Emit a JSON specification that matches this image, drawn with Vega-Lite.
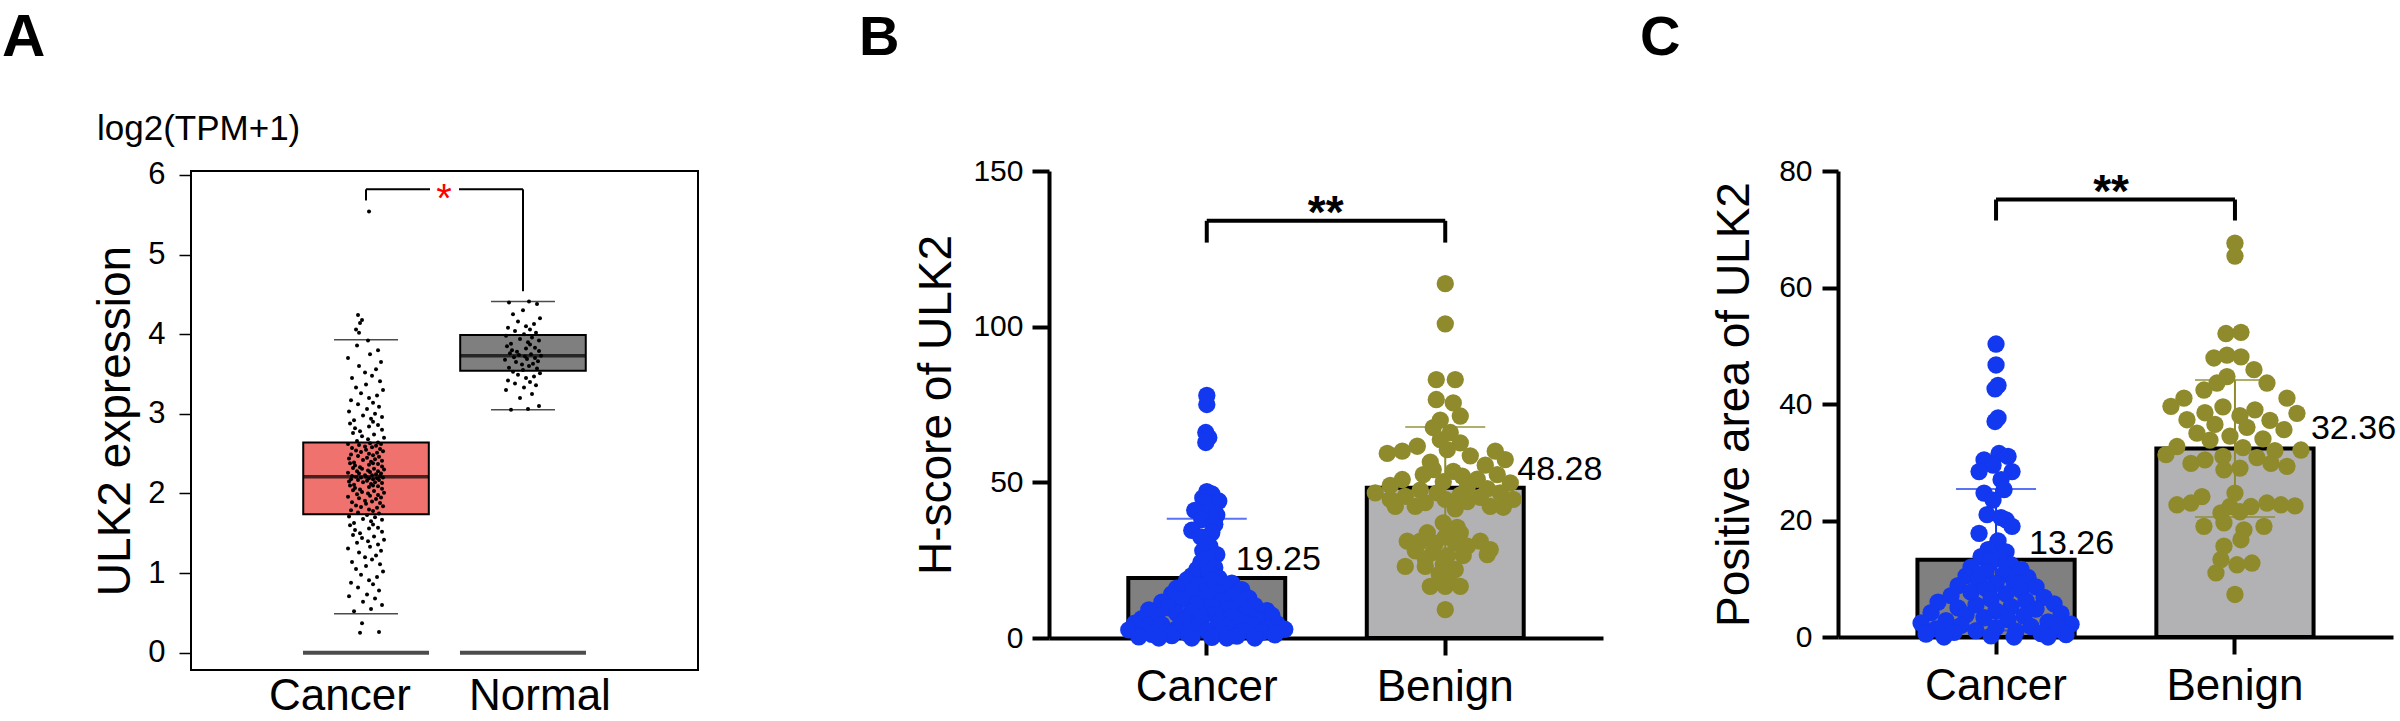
{
"$schema": "https://vega.github.io/schema/vega-lite/v6.json",
"autosize": {"type": "none"},
"padding": {"left": 191, "top": 171, "right": 2209, "bottom": 550},
"background": "white",
"config": {
  "view": {"stroke": null},
  "font": "Liberation Sans",
  "axis": {"labelFont": "Liberation Sans", "titleFont": "Liberation Sans", "labelColor": "black", "titleColor": "black", "grid": false},
  "title": {"font": "Liberation Sans", "color": "black"},
  "text": {"font": "Liberation Sans", "color": "black"}
},
"title": {"text": "A", "anchor": "start", "frame": "group", "dx": -189, "offset": 0, "dy": 59, "fontSize": 60, "fontWeight": "bold"},
"resolve": {"scale": {"x": "independent", "y": "independent", "color": "independent", "fill": "independent", "xOffset": "independent"}},
"bounds": "flush",
"spacing": 50,
"datasets": {
  "abox": [
    {"g": "Cancer", "lo": 0.49, "q1": 1.74, "med": 2.21, "q3": 2.64, "hi": 3.93, "z": 0},
    {"g": "Normal", "lo": 3.05, "q1": 3.54, "med": 3.73, "q3": 3.99, "hi": 4.41, "z": 0}
  ],
  "ap": [
    {"g":"Cancer","v":0.25,"j":-6},{"g":"Cancer","v":0.26,"j":13},{"g":"Cancer","v":0.37,"j":-4},
    {"g":"Cancer","v":0.52,"j":-12},{"g":"Cancer","v":0.55,"j":5},{"g":"Cancer","v":0.6,"j":16},{"g":"Cancer","v":0.64,"j":-3},{"g":"Cancer","v":0.68,"j":9},{"g":"Cancer","v":0.71,"j":-17},{"g":"Cancer","v":0.73,"j":1},{"g":"Cancer","v":0.78,"j":13},{"g":"Cancer","v":0.82,"j":-8},{"g":"Cancer","v":0.86,"j":7},{"g":"Cancer","v":0.88,"j":-15},{"g":"Cancer","v":0.91,"j":3},{"g":"Cancer","v":0.95,"j":11},{"g":"Cancer","v":0.98,"j":-5},
    {"g":"Cancer","v":1.02,"j":17},{"g":"Cancer","v":1.05,"j":-10},{"g":"Cancer","v":1.09,"j":0},{"g":"Cancer","v":1.11,"j":14},{"g":"Cancer","v":1.14,"j":-14},{"g":"Cancer","v":1.17,"j":6},{"g":"Cancer","v":1.2,"j":-1},{"g":"Cancer","v":1.22,"j":10},{"g":"Cancer","v":1.26,"j":-7},{"g":"Cancer","v":1.28,"j":15},{"g":"Cancer","v":1.31,"j":-18},{"g":"Cancer","v":1.33,"j":4},{"g":"Cancer","v":1.36,"j":12},{"g":"Cancer","v":1.38,"j":-9},{"g":"Cancer","v":1.4,"j":2},{"g":"Cancer","v":1.42,"j":18},{"g":"Cancer","v":1.44,"j":-4},{"g":"Cancer","v":1.46,"j":8},{"g":"Cancer","v":1.48,"j":-13},{"g":"Cancer","v":1.5,"j":-6},{"g":"Cancer","v":1.52,"j":16},{"g":"Cancer","v":1.54,"j":-11},{"g":"Cancer","v":1.56,"j":3},{"g":"Cancer","v":1.57,"j":12},{"g":"Cancer","v":1.6,"j":-16},{"g":"Cancer","v":1.61,"j":7},{"g":"Cancer","v":1.63,"j":-12},{"g":"Cancer","v":1.65,"j":5},{"g":"Cancer","v":1.67,"j":16},{"g":"Cancer","v":1.68,"j":-3},{"g":"Cancer","v":1.7,"j":9},{"g":"Cancer","v":1.71,"j":-17},{"g":"Cancer","v":1.73,"j":1},
    {"g":"Cancer","v":1.75,"j":13},{"g":"Cancer","v":1.76,"j":-8},{"g":"Cancer","v":1.78,"j":7},{"g":"Cancer","v":1.79,"j":-15},{"g":"Cancer","v":1.8,"j":3},{"g":"Cancer","v":1.82,"j":11},{"g":"Cancer","v":1.83,"j":-5},{"g":"Cancer","v":1.84,"j":17},{"g":"Cancer","v":1.85,"j":-10},{"g":"Cancer","v":1.87,"j":0},{"g":"Cancer","v":1.88,"j":14},{"g":"Cancer","v":1.89,"j":-14},{"g":"Cancer","v":1.9,"j":6},{"g":"Cancer","v":1.91,"j":-1},{"g":"Cancer","v":1.93,"j":10},{"g":"Cancer","v":1.94,"j":-7},{"g":"Cancer","v":1.95,"j":15},{"g":"Cancer","v":1.96,"j":-18},{"g":"Cancer","v":1.97,"j":4},{"g":"Cancer","v":1.98,"j":12},{"g":"Cancer","v":1.99,"j":-9},{"g":"Cancer","v":2.0,"j":2},{"g":"Cancer","v":2.01,"j":18},{"g":"Cancer","v":2.02,"j":-4},{"g":"Cancer","v":2.03,"j":8},{"g":"Cancer","v":2.04,"j":-13},{"g":"Cancer","v":2.05,"j":-6},{"g":"Cancer","v":2.06,"j":16},{"g":"Cancer","v":2.07,"j":-11},{"g":"Cancer","v":2.08,"j":3},{"g":"Cancer","v":2.09,"j":12},{"g":"Cancer","v":2.1,"j":-16},{"g":"Cancer","v":2.1,"j":7},{"g":"Cancer","v":2.11,"j":-12},{"g":"Cancer","v":2.12,"j":5},{"g":"Cancer","v":2.13,"j":16},{"g":"Cancer","v":2.14,"j":-3},{"g":"Cancer","v":2.14,"j":9},{"g":"Cancer","v":2.15,"j":-17},{"g":"Cancer","v":2.16,"j":1},{"g":"Cancer","v":2.17,"j":13},{"g":"Cancer","v":2.17,"j":-8},{"g":"Cancer","v":2.18,"j":7},{"g":"Cancer","v":2.18,"j":-15},{"g":"Cancer","v":2.19,"j":3},{"g":"Cancer","v":2.19,"j":11},{"g":"Cancer","v":2.2,"j":-5},{"g":"Cancer","v":2.2,"j":17},{"g":"Cancer","v":2.21,"j":-10},{"g":"Cancer","v":2.21,"j":0},
    {"g":"Cancer","v":2.22,"j":14},{"g":"Cancer","v":2.22,"j":-14},{"g":"Cancer","v":2.23,"j":6},{"g":"Cancer","v":2.23,"j":-1},{"g":"Cancer","v":2.24,"j":10},{"g":"Cancer","v":2.25,"j":-7},{"g":"Cancer","v":2.25,"j":15},{"g":"Cancer","v":2.26,"j":-18},{"g":"Cancer","v":2.27,"j":4},{"g":"Cancer","v":2.28,"j":12},{"g":"Cancer","v":2.28,"j":-9},{"g":"Cancer","v":2.29,"j":2},{"g":"Cancer","v":2.3,"j":18},{"g":"Cancer","v":2.31,"j":-4},{"g":"Cancer","v":2.31,"j":8},{"g":"Cancer","v":2.32,"j":-13},{"g":"Cancer","v":2.33,"j":-6},{"g":"Cancer","v":2.34,"j":16},{"g":"Cancer","v":2.35,"j":-11},{"g":"Cancer","v":2.36,"j":3},{"g":"Cancer","v":2.37,"j":12},{"g":"Cancer","v":2.38,"j":-16},{"g":"Cancer","v":2.38,"j":7},{"g":"Cancer","v":2.39,"j":-12},{"g":"Cancer","v":2.4,"j":5},{"g":"Cancer","v":2.41,"j":16},{"g":"Cancer","v":2.42,"j":-3},{"g":"Cancer","v":2.43,"j":9},{"g":"Cancer","v":2.44,"j":-17},{"g":"Cancer","v":2.45,"j":1},{"g":"Cancer","v":2.46,"j":13},{"g":"Cancer","v":2.47,"j":-8},{"g":"Cancer","v":2.48,"j":7},{"g":"Cancer","v":2.49,"j":-15},{"g":"Cancer","v":2.5,"j":3},{"g":"Cancer","v":2.51,"j":11},{"g":"Cancer","v":2.52,"j":-5},{"g":"Cancer","v":2.53,"j":17},{"g":"Cancer","v":2.54,"j":-10},{"g":"Cancer","v":2.55,"j":0},{"g":"Cancer","v":2.56,"j":14},{"g":"Cancer","v":2.57,"j":-14},{"g":"Cancer","v":2.58,"j":6},{"g":"Cancer","v":2.59,"j":-1},{"g":"Cancer","v":2.6,"j":10},{"g":"Cancer","v":2.61,"j":-7},{"g":"Cancer","v":2.62,"j":15},{"g":"Cancer","v":2.62,"j":-18},{"g":"Cancer","v":2.63,"j":4},{"g":"Cancer","v":2.64,"j":12},
    {"g":"Cancer","v":2.66,"j":-9},{"g":"Cancer","v":2.68,"j":2},{"g":"Cancer","v":2.7,"j":18},{"g":"Cancer","v":2.72,"j":-4},{"g":"Cancer","v":2.74,"j":8},{"g":"Cancer","v":2.76,"j":-13},{"g":"Cancer","v":2.78,"j":-6},{"g":"Cancer","v":2.8,"j":16},{"g":"Cancer","v":2.82,"j":-11},{"g":"Cancer","v":2.84,"j":3},{"g":"Cancer","v":2.86,"j":12},{"g":"Cancer","v":2.88,"j":-16},{"g":"Cancer","v":2.9,"j":7},{"g":"Cancer","v":2.92,"j":-12},{"g":"Cancer","v":2.94,"j":5},{"g":"Cancer","v":2.96,"j":16},{"g":"Cancer","v":2.98,"j":-3},{"g":"Cancer","v":3.0,"j":9},{"g":"Cancer","v":3.03,"j":-17},{"g":"Cancer","v":3.06,"j":1},{"g":"Cancer","v":3.09,"j":13},{"g":"Cancer","v":3.12,"j":-8},{"g":"Cancer","v":3.14,"j":7},{"g":"Cancer","v":3.17,"j":-15},{"g":"Cancer","v":3.2,"j":3},{"g":"Cancer","v":3.23,"j":11},{"g":"Cancer","v":3.26,"j":-5},{"g":"Cancer","v":3.3,"j":17},{"g":"Cancer","v":3.33,"j":-10},{"g":"Cancer","v":3.37,"j":0},{"g":"Cancer","v":3.41,"j":14},{"g":"Cancer","v":3.45,"j":-14},{"g":"Cancer","v":3.48,"j":6},{"g":"Cancer","v":3.52,"j":-1},{"g":"Cancer","v":3.56,"j":10},{"g":"Cancer","v":3.6,"j":-7},{"g":"Cancer","v":3.65,"j":15},{"g":"Cancer","v":3.7,"j":-18},{"g":"Cancer","v":3.75,"j":4},{"g":"Cancer","v":3.8,"j":12},{"g":"Cancer","v":3.86,"j":-9},{"g":"Cancer","v":3.92,"j":2},
    {"g":"Cancer","v":4.02,"j":-7},{"g":"Cancer","v":4.06,"j":-10},{"g":"Cancer","v":4.14,"j":-6},{"g":"Cancer","v":4.18,"j":-4},{"g":"Cancer","v":4.24,"j":-8},{"g":"Cancer","v":5.54,"j":3},
    {"g":"Normal","v":3.05,"j":-12},{"g":"Normal","v":3.06,"j":5},{"g":"Normal","v":3.1,"j":16},{"g":"Normal","v":3.2,"j":-3},{"g":"Normal","v":3.25,"j":9},{"g":"Normal","v":3.3,"j":-17},{"g":"Normal","v":3.33,"j":1},{"g":"Normal","v":3.36,"j":13},{"g":"Normal","v":3.38,"j":-8},{"g":"Normal","v":3.4,"j":7},{"g":"Normal","v":3.42,"j":-15},{"g":"Normal","v":3.45,"j":3},{"g":"Normal","v":3.47,"j":11},{"g":"Normal","v":3.49,"j":-5},{"g":"Normal","v":3.51,"j":17},{"g":"Normal","v":3.53,"j":-10},{"g":"Normal","v":3.55,"j":0},{"g":"Normal","v":3.57,"j":14},{"g":"Normal","v":3.58,"j":-14},{"g":"Normal","v":3.6,"j":6},{"g":"Normal","v":3.62,"j":-1},{"g":"Normal","v":3.63,"j":10},{"g":"Normal","v":3.65,"j":-7},{"g":"Normal","v":3.66,"j":15},{"g":"Normal","v":3.68,"j":-18},{"g":"Normal","v":3.69,"j":4},{"g":"Normal","v":3.7,"j":12},{"g":"Normal","v":3.71,"j":-9},{"g":"Normal","v":3.72,"j":2},{"g":"Normal","v":3.73,"j":18},{"g":"Normal","v":3.74,"j":-4},{"g":"Normal","v":3.75,"j":8},{"g":"Normal","v":3.76,"j":-13},{"g":"Normal","v":3.78,"j":-6},{"g":"Normal","v":3.79,"j":16},{"g":"Normal","v":3.8,"j":-11},{"g":"Normal","v":3.82,"j":3},{"g":"Normal","v":3.83,"j":12},{"g":"Normal","v":3.85,"j":-16},{"g":"Normal","v":3.87,"j":7},{"g":"Normal","v":3.88,"j":-12},{"g":"Normal","v":3.9,"j":5},{"g":"Normal","v":3.92,"j":16},{"g":"Normal","v":3.94,"j":-3},{"g":"Normal","v":3.96,"j":9},{"g":"Normal","v":3.98,"j":-17},{"g":"Normal","v":4.0,"j":1},{"g":"Normal","v":4.02,"j":13},{"g":"Normal","v":4.04,"j":-8},{"g":"Normal","v":4.06,"j":7},{"g":"Normal","v":4.08,"j":-15},{"g":"Normal","v":4.1,"j":3},{"g":"Normal","v":4.13,"j":11},{"g":"Normal","v":4.16,"j":-5},{"g":"Normal","v":4.2,"j":17},{"g":"Normal","v":4.25,"j":-10},{"g":"Normal","v":4.3,"j":0},{"g":"Normal","v":4.38,"j":14},{"g":"Normal","v":4.4,"j":-14},{"g":"Normal","v":4.41,"j":6}
  ],
  "abr": [{"g": "Cancer", "g2": "Normal", "v": 5.82}],
  "aleg": [{"g": "Cancer", "v": 5.82, "v2": 5.68}, {"g": "Normal", "v": 5.82, "v2": 4.54}],
  "bbar": [
    {"g": "Cancer", "m": 19.25, "lo": 0.2, "hi": 38.3, "lab": "19.25"},
    {"g": "Benign", "m": 48.28, "lo": 28.8, "hi": 67.8, "lab": "48.28"}
  ],
  "bp": [
    {"g":"Cancer","v":77.9,"j":0},{"g":"Cancer","v":75.0,"j":0},{"g":"Cancer","v":66.0,"j":-1},{"g":"Cancer","v":64.4,"j":2},{"g":"Cancer","v":62.8,"j":-1},
    {"g":"Cancer","v":47.0,"j":0},{"g":"Cancer","v":46.3,"j":5},{"g":"Cancer","v":45.0,"j":-4},{"g":"Cancer","v":44.0,"j":12},{"g":"Cancer","v":43.5,"j":-2},{"g":"Cancer","v":41.0,"j":-12},{"g":"Cancer","v":40.4,"j":2},{"g":"Cancer","v":39.5,"j":10},{"g":"Cancer","v":38.0,"j":-5},{"g":"Cancer","v":36.5,"j":8},{"g":"Cancer","v":34.6,"j":-15},{"g":"Cancer","v":33.8,"j":5},{"g":"Cancer","v":32.5,"j":-6},{"g":"Cancer","v":29.5,"j":3},{"g":"Cancer","v":28.0,"j":-4},{"g":"Cancer","v":26.8,"j":10},{"g":"Cancer","v":25.7,"j":0},{"g":"Cancer","v":24.2,"j":-6},{"g":"Cancer","v":22.6,"j":8},{"g":"Cancer","v":22.0,"j":-10},{"g":"Cancer","v":21.0,"j":2},{"g":"Cancer","v":20.0,"j":-15},{"g":"Cancer","v":19.3,"j":12},
    {"g":"Cancer","v":18.7,"j":-20},{"g":"Cancer","v":18.2,"j":5},{"g":"Cancer","v":17.6,"j":25},{"g":"Cancer","v":17.0,"j":-8},{"g":"Cancer","v":16.4,"j":18},{"g":"Cancer","v":16.0,"j":-30},{"g":"Cancer","v":15.5,"j":35},{"g":"Cancer","v":15.0,"j":-15},{"g":"Cancer","v":14.6,"j":10},{"g":"Cancer","v":14.2,"j":-35},{"g":"Cancer","v":13.8,"j":28},{"g":"Cancer","v":13.3,"j":-2},{"g":"Cancer","v":12.8,"j":42},{"g":"Cancer","v":12.4,"j":-25},{"g":"Cancer","v":12.0,"j":15},{"g":"Cancer","v":11.5,"j":-45},{"g":"Cancer","v":11.2,"j":32},{"g":"Cancer","v":10.8,"j":-10},{"g":"Cancer","v":10.4,"j":48},{"g":"Cancer","v":10.0,"j":5},
    {"g":"Cancer","v":9.7,"j":-38},{"g":"Cancer","v":9.4,"j":22},{"g":"Cancer","v":9.0,"j":-58},{"g":"Cancer","v":8.8,"j":60},{"g":"Cancer","v":8.5,"j":-15},{"g":"Cancer","v":8.2,"j":40},{"g":"Cancer","v":7.9,"j":-30},{"g":"Cancer","v":7.6,"j":8},{"g":"Cancer","v":7.3,"j":65},{"g":"Cancer","v":7.0,"j":-50},{"g":"Cancer","v":6.8,"j":25},{"g":"Cancer","v":6.5,"j":-5},{"g":"Cancer","v":6.2,"j":-65},{"g":"Cancer","v":5.9,"j":50},{"g":"Cancer","v":5.6,"j":-22},{"g":"Cancer","v":5.3,"j":35},{"g":"Cancer","v":5.0,"j":12},
    {"g":"Cancer","v":4.8,"j":-72},{"g":"Cancer","v":4.6,"j":70},{"g":"Cancer","v":4.3,"j":-45},{"g":"Cancer","v":4.1,"j":45},{"g":"Cancer","v":3.9,"j":-10},{"g":"Cancer","v":3.6,"j":20},{"g":"Cancer","v":3.4,"j":-60},{"g":"Cancer","v":3.2,"j":60},{"g":"Cancer","v":3.0,"j":-30},{"g":"Cancer","v":2.8,"j":78},{"g":"Cancer","v":2.6,"j":-78},{"g":"Cancer","v":2.4,"j":0},{"g":"Cancer","v":2.2,"j":35},{"g":"Cancer","v":2.0,"j":-40},{"g":"Cancer","v":1.8,"j":55},{"g":"Cancer","v":1.6,"j":-20},{"g":"Cancer","v":1.4,"j":15},{"g":"Cancer","v":1.2,"j":-55},{"g":"Cancer","v":1.0,"j":68},{"g":"Cancer","v":0.8,"j":-35},{"g":"Cancer","v":0.6,"j":30},{"g":"Cancer","v":0.4,"j":-68},{"g":"Cancer","v":0.2,"j":5},{"g":"Cancer","v":0.0,"j":-48},{"g":"Cancer","v":0.0,"j":48},{"g":"Cancer","v":0.0,"j":-15},{"g":"Cancer","v":0.0,"j":20},
    {"g":"Benign","v":113.8,"j":0},{"g":"Benign","v":100.9,"j":0},{"g":"Benign","v":83.0,"j":-9},{"g":"Benign","v":83.0,"j":10},{"g":"Benign","v":76.6,"j":-9},{"g":"Benign","v":75.5,"j":8},{"g":"Benign","v":71.3,"j":15},{"g":"Benign","v":70.0,"j":-5},{"g":"Benign","v":67.6,"j":-12},{"g":"Benign","v":66.0,"j":5},{"g":"Benign","v":63.7,"j":-5},{"g":"Benign","v":62.7,"j":15},{"g":"Benign","v":61.6,"j":-28},{"g":"Benign","v":60.5,"j":2},{"g":"Benign","v":60.0,"j":-43},{"g":"Benign","v":59.3,"j":-58},{"g":"Benign","v":60.0,"j":50},{"g":"Benign","v":58.5,"j":25},{"g":"Benign","v":57.3,"j":60},{"g":"Benign","v":56.5,"j":-15},{"g":"Benign","v":55.5,"j":40},{"g":"Benign","v":54.1,"j":-12},{"g":"Benign","v":53.5,"j":8},{"g":"Benign","v":52.5,"j":-22},{"g":"Benign","v":52.5,"j":52},{"g":"Benign","v":52.0,"j":17},{"g":"Benign","v":51.0,"j":32},{"g":"Benign","v":50.9,"j":-43},{"g":"Benign","v":50.2,"j":-2},{"g":"Benign","v":49.8,"j":65},{"g":"Benign","v":49.0,"j":-55},{"g":"Benign","v":48.5,"j":22},{"g":"Benign","v":48.0,"j":42},{"g":"Benign","v":47.5,"j":-25},{"g":"Benign","v":46.6,"j":-70},{"g":"Benign","v":46.6,"j":-8},{"g":"Benign","v":46.6,"j":55},{"g":"Benign","v":46.0,"j":15},{"g":"Benign","v":45.5,"j":-40},{"g":"Benign","v":45.2,"j":35},{"g":"Benign","v":44.5,"j":-55},{"g":"Benign","v":44.5,"j":0},{"g":"Benign","v":44.5,"j":68},{"g":"Benign","v":43.5,"j":-20},{"g":"Benign","v":43.8,"j":22},{"g":"Benign","v":42.3,"j":-50},{"g":"Benign","v":42.3,"j":-30},{"g":"Benign","v":42.3,"j":45},{"g":"Benign","v":42.0,"j":58},{"g":"Benign","v":41.5,"j":10},{"g":"Benign","v":37.0,"j":-2},{"g":"Benign","v":35.5,"j":12},{"g":"Benign","v":33.8,"j":-18},{"g":"Benign","v":33.8,"j":15},{"g":"Benign","v":32.5,"j":0},{"g":"Benign","v":31.1,"j":-38},{"g":"Benign","v":31.1,"j":-25},{"g":"Benign","v":31.1,"j":35},{"g":"Benign","v":30.5,"j":-10},{"g":"Benign","v":30.5,"j":10},{"g":"Benign","v":29.5,"j":22},{"g":"Benign","v":28.4,"j":45},{"g":"Benign","v":28.0,"j":-30},{"g":"Benign","v":27.5,"j":-12},{"g":"Benign","v":26.8,"j":42},{"g":"Benign","v":26.3,"j":2},{"g":"Benign","v":26.5,"j":18},{"g":"Benign","v":25.5,"j":-20},{"g":"Benign","v":23.0,"j":-40},{"g":"Benign","v":23.0,"j":-20},{"g":"Benign","v":23.5,"j":-2},{"g":"Benign","v":22.0,"j":10},{"g":"Benign","v":20.5,"j":-6},{"g":"Benign","v":18.5,"j":4},{"g":"Benign","v":16.6,"j":-15},{"g":"Benign","v":16.6,"j":0},{"g":"Benign","v":16.6,"j":15},{"g":"Benign","v":9.1,"j":0}
  ],
  "bbr": [{"g": "Cancer", "g2": "Benign", "v": 134}],
  "bleg": [{"g": "Cancer", "v": 134, "v2": 127}, {"g": "Benign", "v": 134, "v2": 127}],
  "cbar": [
    {"g": "Cancer", "m": 13.26, "lo": 1.1, "hi": 25.4, "lab": "13.26"},
    {"g": "Benign", "m": 32.36, "lo": 20.6, "hi": 44.1, "lab": "32.36"}
  ],
  "cp": [
    {"g":"Cancer","v":50.3,"j":0},{"g":"Cancer","v":46.7,"j":0},{"g":"Cancer","v":43.2,"j":2},{"g":"Cancer","v":42.6,"j":-1},{"g":"Cancer","v":37.6,"j":2},{"g":"Cancer","v":37.0,"j":-1},{"g":"Cancer","v":31.5,"j":3},{"g":"Cancer","v":31.0,"j":12},{"g":"Cancer","v":30.4,"j":-12},{"g":"Cancer","v":29.5,"j":-3},{"g":"Cancer","v":28.4,"j":-17},{"g":"Cancer","v":28.4,"j":16},{"g":"Cancer","v":27.0,"j":5},{"g":"Cancer","v":25.3,"j":8},{"g":"Cancer","v":24.7,"j":-12},{"g":"Cancer","v":23.5,"j":-3},{"g":"Cancer","v":21.0,"j":-9},{"g":"Cancer","v":20.5,"j":5},{"g":"Cancer","v":20.1,"j":10},{"g":"Cancer","v":19.0,"j":16},{"g":"Cancer","v":17.8,"j":-17},{"g":"Cancer","v":16.5,"j":2},{"g":"Cancer","v":15.6,"j":0},{"g":"Cancer","v":15.0,"j":-8},{"g":"Cancer","v":14.6,"j":10},
    {"g":"Cancer","v":13.8,"j":-15},{"g":"Cancer","v":13.4,"j":5},{"g":"Cancer","v":12.7,"j":-6},{"g":"Cancer","v":12.4,"j":15},{"g":"Cancer","v":12.0,"j":-25},{"g":"Cancer","v":11.6,"j":25},{"g":"Cancer","v":11.2,"j":-10},{"g":"Cancer","v":10.8,"j":8},{"g":"Cancer","v":10.5,"j":-30},{"g":"Cancer","v":10.2,"j":32},{"g":"Cancer","v":9.8,"j":-18},{"g":"Cancer","v":9.5,"j":18},{"g":"Cancer","v":9.2,"j":0},{"g":"Cancer","v":8.8,"j":-38},{"g":"Cancer","v":8.6,"j":40},{"g":"Cancer","v":8.3,"j":-10},{"g":"Cancer","v":8.0,"j":25},{"g":"Cancer","v":7.7,"j":-25},{"g":"Cancer","v":7.4,"j":10},{"g":"Cancer","v":7.1,"j":-45},{"g":"Cancer","v":6.8,"j":48},{"g":"Cancer","v":6.5,"j":-5},{"g":"Cancer","v":6.2,"j":30},{"g":"Cancer","v":6.0,"j":-58},{"g":"Cancer","v":5.7,"j":58},{"g":"Cancer","v":5.5,"j":-20},{"g":"Cancer","v":5.2,"j":15},{"g":"Cancer","v":5.0,"j":-38},{"g":"Cancer","v":4.8,"j":40},{"g":"Cancer","v":4.5,"j":0},{"g":"Cancer","v":4.2,"j":-65},{"g":"Cancer","v":4.0,"j":65},{"g":"Cancer","v":3.8,"j":-30},{"g":"Cancer","v":3.6,"j":28},{"g":"Cancer","v":3.3,"j":-12},{"g":"Cancer","v":3.0,"j":12},{"g":"Cancer","v":2.8,"j":-50},{"g":"Cancer","v":2.6,"j":52},{"g":"Cancer","v":2.4,"j":-75},{"g":"Cancer","v":2.2,"j":75},{"g":"Cancer","v":2.0,"j":-35},{"g":"Cancer","v":1.8,"j":35},{"g":"Cancer","v":1.6,"j":0},{"g":"Cancer","v":1.4,"j":-60},{"g":"Cancer","v":1.3,"j":62},{"g":"Cancer","v":1.1,"j":-20},{"g":"Cancer","v":1.0,"j":20},{"g":"Cancer","v":0.8,"j":-42},{"g":"Cancer","v":0.6,"j":45},{"g":"Cancer","v":0.5,"j":-70},{"g":"Cancer","v":0.4,"j":70},{"g":"Cancer","v":0.2,"j":-5},{"g":"Cancer","v":0.0,"j":-52},{"g":"Cancer","v":0.0,"j":18},{"g":"Cancer","v":0.0,"j":52},
    {"g":"Benign","v":67.6,"j":0},{"g":"Benign","v":65.4,"j":0},{"g":"Benign","v":52.1,"j":-9},{"g":"Benign","v":52.3,"j":6},{"g":"Benign","v":47.9,"j":-21},{"g":"Benign","v":48.4,"j":-8},{"g":"Benign","v":48.1,"j":6},{"g":"Benign","v":45.9,"j":19},{"g":"Benign","v":44.7,"j":-8},{"g":"Benign","v":43.6,"j":32},{"g":"Benign","v":42.4,"j":-31},{"g":"Benign","v":43.6,"j":-18},{"g":"Benign","v":41.0,"j":-51},{"g":"Benign","v":39.6,"j":-64},{"g":"Benign","v":41.0,"j":52},{"g":"Benign","v":38.4,"j":62},{"g":"Benign","v":37.3,"j":-48},{"g":"Benign","v":38.5,"j":-30},{"g":"Benign","v":39.5,"j":-12},{"g":"Benign","v":38.0,"j":5},{"g":"Benign","v":39.0,"j":20},{"g":"Benign","v":37.2,"j":35},{"g":"Benign","v":36.5,"j":-20},{"g":"Benign","v":36.0,"j":12},{"g":"Benign","v":35.6,"j":49},{"g":"Benign","v":35.0,"j":-38},{"g":"Benign","v":34.5,"j":-5},{"g":"Benign","v":34.0,"j":28},{"g":"Benign","v":33.8,"j":-25},{"g":"Benign","v":32.7,"j":-58},{"g":"Benign","v":32.5,"j":8},{"g":"Benign","v":32.0,"j":40},{"g":"Benign","v":32.1,"j":66},{"g":"Benign","v":31.3,"j":-69},{"g":"Benign","v":31.0,"j":-12},{"g":"Benign","v":30.8,"j":22},{"g":"Benign","v":30.4,"j":-30},{"g":"Benign","v":29.8,"j":-44},{"g":"Benign","v":29.8,"j":36},{"g":"Benign","v":29.3,"j":52},{"g":"Benign","v":28.7,"j":-11},{"g":"Benign","v":29.0,"j":5},{"g":"Benign","v":24.7,"j":0},{"g":"Benign","v":24.1,"j":-33},{"g":"Benign","v":23.0,"j":-44},{"g":"Benign","v":22.7,"j":-58},{"g":"Benign","v":22.4,"j":-5},{"g":"Benign","v":22.4,"j":16},{"g":"Benign","v":23.0,"j":32},{"g":"Benign","v":22.7,"j":46},{"g":"Benign","v":22.5,"j":60},{"g":"Benign","v":21.3,"j":-14},{"g":"Benign","v":21.5,"j":5},{"g":"Benign","v":19.0,"j":-31},{"g":"Benign","v":19.6,"j":-11},{"g":"Benign","v":18.4,"j":9},{"g":"Benign","v":19.0,"j":29},{"g":"Benign","v":15.6,"j":-11},{"g":"Benign","v":16.7,"j":6},{"g":"Benign","v":13.3,"j":-14},{"g":"Benign","v":12.4,"j":2},{"g":"Benign","v":12.7,"j":17},{"g":"Benign","v":11.0,"j":-19},{"g":"Benign","v":7.3,"j":0}
  ],
  "cbr": [{"g": "Cancer", "g2": "Benign", "v": 75.1}],
  "cleg": [{"g": "Cancer", "v": 75.1, "v2": 71.5}, {"g": "Benign", "v": 75.1, "v2": 71.5}]
},
"hconcat": [
  {
    "width": 507, "height": 499,
    "view": {"stroke": "black", "strokeWidth": 2},
    "title": {"text": "log2(TPM+1)", "anchor": "start", "frame": "group", "dx": -94, "offset": 12, "fontSize": 35, "fontWeight": "normal"},
    "resolve": {"scale": {"xOffset": "independent"}},
    "encoding": {
      "x": {"field": "g", "type": "nominal", "sort": ["Cancer", "Normal"],
        "scale": {"domain": ["Cancer", "Normal"], "paddingInner": 0.2, "paddingOuter": 0.715},
        "axis": {"title": null, "domain": false, "ticks": false, "labelAngle": 0, "labelFontSize": 44, "labelPadding": 4,
          "labelOffset": {"condition": {"test": "datum.value === 'Cancer'", "value": -26}, "value": 17}}}
    },
    "layer": [
      {"data": {"name": "abox"}, "mark": {"type": "bar", "stroke": "black", "strokeWidth": 2},
       "encoding": {"y": {"field": "q1", "type": "quantitative", "scale": {"domain": [-0.217, 6.05], "nice": false, "zero": false},
           "axis": {"title": "ULK2 expression", "titleFontSize": 46, "titleFontWeight": "normal", "titlePadding": 8, "values": [0, 1, 2, 3, 4, 5, 6], "format": "d", "domain": false, "tickSize": 12, "tickWidth": 1.5, "tickColor": "black", "labelFontSize": 31, "labelPadding": 14}},
         "y2": {"field": "q3"},
         "fill": {"field": "g", "type": "nominal", "scale": {"domain": ["Cancer", "Normal"], "range": ["#EF726E", "#7F7F7F"]}, "legend": null}}},
      {"data": {"name": "abox"}, "mark": {"type": "tick", "color": "black", "size": 126, "thickness": 3.5},
       "encoding": {"y": {"field": "med", "type": "quantitative"}}},
      {"data": {"name": "abox"}, "mark": {"type": "tick", "color": "black", "size": 64, "thickness": 1.5},
       "encoding": {"y": {"field": "lo", "type": "quantitative"}}},
      {"data": {"name": "abox"}, "mark": {"type": "tick", "color": "black", "size": 64, "thickness": 1.5},
       "encoding": {"y": {"field": "hi", "type": "quantitative"}}},
      {"data": {"name": "abox"}, "mark": {"type": "tick", "color": "black", "size": 126, "thickness": 4},
       "encoding": {"y": {"field": "z", "type": "quantitative"}}},
      {"data": {"name": "ap"}, "mark": {"type": "point", "filled": true, "size": 16, "color": "black", "opacity": 1},
       "encoding": {"y": {"field": "v", "type": "quantitative"},
         "xOffset": {"field": "j", "type": "quantitative", "scale": {"domain": [-100, 100], "range": [-37.2, 162.8]}}}},
      {"data": {"name": "abr"}, "mark": {"type": "rule", "color": "black", "strokeWidth": 2, "strokeDash": [64, 29, 100]},
       "encoding": {"x2": {"field": "g2"}, "y": {"field": "v", "type": "quantitative"}}},
      {"data": {"name": "aleg"}, "mark": {"type": "rule", "color": "black", "strokeWidth": 2},
       "encoding": {"y": {"field": "v", "type": "quantitative"}, "y2": {"field": "v2"}}},
      {"data": {"name": "abr"}, "mark": {"type": "text", "text": "*", "color": "#FF0000", "fontSize": 40, "dx": 78, "dy": 23, "baseline": "alphabetic", "align": "center"},
       "encoding": {"y": {"field": "v", "type": "quantitative"}}}
    ]
  },
  {"width": 251, "height": 1, "data": {"values": [{"a": 1}]}, "mark": {"type": "point", "opacity": 0}, "encoding": {}},
  {
    "width": 554, "height": 467,
    "title": {"text": "B", "anchor": "start", "frame": "group", "dx": -190, "offset": 89, "fontSize": 56, "fontWeight": "bold"},
    "resolve": {"scale": {"xOffset": "independent"}},
    "encoding": {
      "x": {"field": "g", "type": "nominal", "sort": ["Cancer", "Benign"],
        "scale": {"domain": ["Cancer", "Benign"], "paddingInner": 0.342, "paddingOuter": 0.3325},
        "axis": {"title": null, "labelAngle": 0, "labelFontSize": 44, "labelPadding": 10, "domainWidth": 4, "domainColor": "black", "tickSize": 17, "tickWidth": 4, "tickColor": "black"}}
    },
    "layer": [
      {"data": {"name": "bbar"}, "mark": {"type": "bar", "stroke": "black", "strokeWidth": 4},
       "encoding": {"y": {"field": "m", "type": "quantitative", "scale": {"domain": [0, 150], "nice": false},
           "axis": {"title": "H-score of ULK2", "values": [0, 50, 100, 150], "domainWidth": 4, "domainColor": "black", "tickSize": 17, "tickWidth": 4, "tickColor": "black", "labelFontSize": 30, "labelPadding": 9, "titleFontSize": 46, "titleFontWeight": "normal", "titlePadding": 12}},
         "fill": {"field": "g", "type": "nominal", "scale": {"domain": ["Cancer", "Benign"], "range": ["#808080", "#B2B2B5"]}, "legend": null}}},
      {"data": {"name": "bbar"}, "mark": {"type": "rule", "strokeWidth": 2},
       "encoding": {"y": {"field": "lo", "type": "quantitative"}, "y2": {"field": "hi"},
         "color": {"field": "g", "type": "nominal", "scale": {"domain": ["Cancer", "Benign"], "range": ["#1238F0", "#8F8B2C"]}, "legend": null}}},
      {"data": {"name": "bbar"}, "mark": {"type": "tick", "size": 80, "thickness": 2},
       "encoding": {"y": {"field": "lo", "type": "quantitative"}, "color": {"field": "g", "type": "nominal", "legend": null}}},
      {"data": {"name": "bbar"}, "mark": {"type": "tick", "size": 80, "thickness": 2},
       "encoding": {"y": {"field": "hi", "type": "quantitative"}, "color": {"field": "g", "type": "nominal", "legend": null}}},
      {"data": {"name": "bp"}, "mark": {"type": "point", "filled": true, "size": 300, "opacity": 1},
       "encoding": {"y": {"field": "v", "type": "quantitative"},
         "xOffset": {"field": "j", "type": "quantitative", "scale": {"domain": [-100, 100], "range": [-21.5, 178.5]}},
         "color": {"field": "g", "type": "nominal", "legend": null}}},
      {"data": {"name": "bbar"}, "transform": [{"filter": "datum.g === 'Cancer'"}],
       "mark": {"type": "text", "align": "left", "baseline": "alphabetic", "dx": 29, "dy": -8, "fontSize": 34},
       "encoding": {"y": {"field": "m", "type": "quantitative"}, "text": {"field": "lab"}}},
      {"data": {"name": "bbar"}, "transform": [{"filter": "datum.g === 'Benign'"}],
       "mark": {"type": "text", "align": "left", "baseline": "alphabetic", "dx": 72, "dy": -8, "fontSize": 34},
       "encoding": {"y": {"field": "m", "type": "quantitative"}, "text": {"field": "lab"}}},
      {"data": {"name": "bbr"}, "mark": {"type": "rule", "color": "black", "strokeWidth": 4},
       "encoding": {"x2": {"field": "g2"}, "y": {"field": "v", "type": "quantitative"}}},
      {"data": {"name": "bleg"}, "mark": {"type": "rule", "color": "black", "strokeWidth": 4},
       "encoding": {"y": {"field": "v", "type": "quantitative"}, "y2": {"field": "v2"}}},
      {"data": {"name": "bbr"}, "mark": {"type": "text", "text": "**", "fontSize": 46, "fontWeight": "bold", "dx": 119, "dy": 7, "baseline": "alphabetic", "align": "center"},
       "encoding": {"y": {"field": "v", "type": "quantitative"}}}
    ]
  },
  {"width": 135, "height": 1, "data": {"values": [{"a": 1}]}, "mark": {"type": "point", "opacity": 0}, "encoding": {}},
  {
    "width": 555, "height": 466,
    "title": {"text": "C", "anchor": "start", "frame": "group", "dx": -198, "offset": 89, "fontSize": 56, "fontWeight": "bold"},
    "resolve": {"scale": {"xOffset": "independent"}},
    "encoding": {
      "x": {"field": "g", "type": "nominal", "sort": ["Cancer", "Benign"],
        "scale": {"domain": ["Cancer", "Benign"], "paddingInner": 0.342, "paddingOuter": 0.3325},
        "axis": {"title": null, "labelAngle": 0, "labelFontSize": 44, "labelPadding": 10, "domainWidth": 4, "domainColor": "black", "tickSize": 17, "tickWidth": 4, "tickColor": "black"}}
    },
    "layer": [
      {"data": {"name": "cbar"}, "mark": {"type": "bar", "stroke": "black", "strokeWidth": 4},
       "encoding": {"y": {"field": "m", "type": "quantitative", "scale": {"domain": [0, 80], "nice": false},
           "axis": {"title": "Positive area of ULK2", "values": [0, 20, 40, 60, 80], "domainWidth": 4, "domainColor": "black", "tickSize": 16, "tickWidth": 4, "tickColor": "black", "labelFontSize": 30, "labelPadding": 10, "titleFontSize": 46, "titleFontWeight": "normal", "titlePadding": 20}},
         "fill": {"field": "g", "type": "nominal", "scale": {"domain": ["Cancer", "Benign"], "range": ["#808080", "#B2B2B5"]}, "legend": null}}},
      {"data": {"name": "cbar"}, "mark": {"type": "rule", "strokeWidth": 2},
       "encoding": {"y": {"field": "lo", "type": "quantitative"}, "y2": {"field": "hi"},
         "color": {"field": "g", "type": "nominal", "scale": {"domain": ["Cancer", "Benign"], "range": ["#1238F0", "#8F8B2C"]}, "legend": null}}},
      {"data": {"name": "cbar"}, "mark": {"type": "tick", "size": 80, "thickness": 2},
       "encoding": {"y": {"field": "lo", "type": "quantitative"}, "color": {"field": "g", "type": "nominal", "legend": null}}},
      {"data": {"name": "cbar"}, "mark": {"type": "tick", "size": 80, "thickness": 2},
       "encoding": {"y": {"field": "hi", "type": "quantitative"}, "color": {"field": "g", "type": "nominal", "legend": null}}},
      {"data": {"name": "cp"}, "mark": {"type": "point", "filled": true, "size": 300, "opacity": 1},
       "encoding": {"y": {"field": "v", "type": "quantitative"},
         "xOffset": {"field": "j", "type": "quantitative", "scale": {"domain": [-100, 100], "range": [-21.4, 178.6]}},
         "color": {"field": "g", "type": "nominal", "legend": null}}},
      {"data": {"name": "cbar"}, "transform": [{"filter": "datum.g === 'Cancer'"}],
       "mark": {"type": "text", "align": "left", "baseline": "alphabetic", "dx": 33, "dy": -6, "fontSize": 34},
       "encoding": {"y": {"field": "m", "type": "quantitative"}, "text": {"field": "lab"}}},
      {"data": {"name": "cbar"}, "transform": [{"filter": "datum.g === 'Benign'"}],
       "mark": {"type": "text", "align": "left", "baseline": "alphabetic", "dx": 76, "dy": -10, "fontSize": 34},
       "encoding": {"y": {"field": "m", "type": "quantitative"}, "text": {"field": "lab"}}},
      {"data": {"name": "cbr"}, "mark": {"type": "rule", "color": "black", "strokeWidth": 4},
       "encoding": {"x2": {"field": "g2"}, "y": {"field": "v", "type": "quantitative"}}},
      {"data": {"name": "cleg"}, "mark": {"type": "rule", "color": "black", "strokeWidth": 4},
       "encoding": {"y": {"field": "v", "type": "quantitative"}, "y2": {"field": "v2"}}},
      {"data": {"name": "cbr"}, "mark": {"type": "text", "text": "**", "fontSize": 46, "fontWeight": "bold", "dx": 115, "dy": 7, "baseline": "alphabetic", "align": "center"},
       "encoding": {"y": {"field": "v", "type": "quantitative"}}}
    ]
  }
]
}
